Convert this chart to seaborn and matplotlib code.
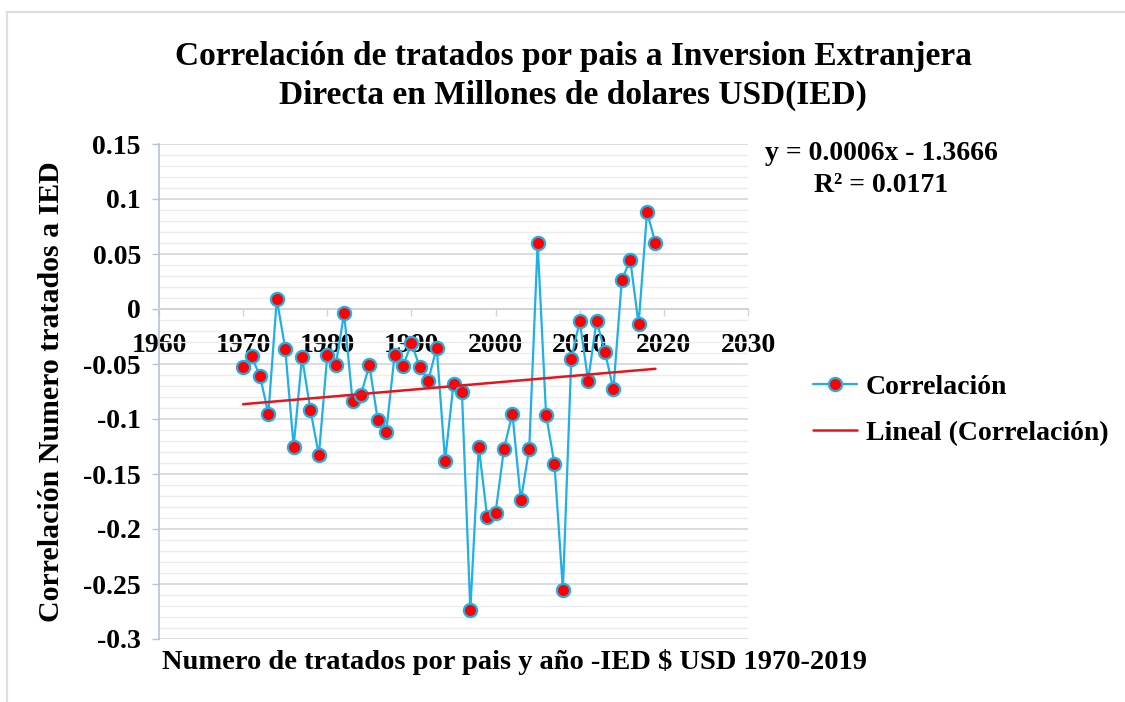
import numpy as np
import pandas as pd
import matplotlib
matplotlib.use("Agg")
import matplotlib.pyplot as plt
from matplotlib.lines import Line2D
from matplotlib.patches import Rectangle
from matplotlib.ticker import FixedLocator, FixedFormatter, MultipleLocator
import seaborn as sns

# ---------------- data ----------------
years = list(range(1970, 2020))
correlacion = [
    -0.053, -0.043, -0.061, -0.095, 0.009, -0.036, -0.125, -0.044, -0.092, -0.133,
    -0.042, -0.051, -0.004, -0.084, -0.078, -0.051, -0.101, -0.112, -0.042, -0.052,
    -0.031, -0.053, -0.065, -0.035, -0.138, -0.068, -0.075, -0.274, -0.125, -0.189,
    -0.185, -0.127, -0.095, -0.174, -0.127, 0.060, -0.096, -0.141, -0.255, -0.045,
    -0.011, -0.065, -0.011, -0.039, -0.073, 0.026, 0.045, -0.014, 0.088, 0.060,
]
x_ticks = [1960, 1970, 1980, 1990, 2000, 2010, 2020, 2030]
y_ticks = [0.15, 0.1, 0.05, 0, -0.05, -0.1, -0.15, -0.2, -0.25, -0.3]
y_tick_labels = ["0.15", "0.1", "0.05", "0", "-0.05", "-0.1", "-0.15", "-0.2", "-0.25", "-0.3"]

title = "Correlación de tratados por pais a Inversion Extranjera\nDirecta en Millones de dolares USD(IED)"
x_label = "Numero de tratados por pais y año -IED $ USD 1970-2019"
y_label = "Correlación Numero tratados a IED"
series_name = "Correlación"
trend_name = "Lineal (Correlación)"
equation = "y = 0.0006x - 1.3666"
r2_text = "R² = 0.0171"

df = pd.DataFrame({"year": years, "corr": correlacion})

# ---------------- style ----------------
sns.set_theme(style="white")
plt.rcParams["font.family"] = ["Liberation Serif", "DejaVu Serif"]
plt.rcParams["font.weight"] = "bold"
plt.rcParams["text.color"] = "black"
plt.rcParams["axes.labelcolor"] = "black"
plt.rcParams["xtick.color"] = "black"
plt.rcParams["ytick.color"] = "black"

W, H = 1125, 702
fig = plt.figure(figsize=(W / 100, H / 100), dpi=100)
fig.patch.set_facecolor("white")

L, R, T, B = 159, 748, 144, 639
ax = fig.add_axes([L / W, 1 - B / H, (R - L) / W, (B - T) / H])
ax.set_facecolor("white")

blue = "#1fb0e6"
red = "#ff0000"
trend_red = "#e8141a"

sns.lineplot(data=df, x="year", y="corr", ax=ax, color=blue, linewidth=1.6,
             marker="o", markersize=9.5, markerfacecolor=red,
             markeredgecolor=blue, markeredgewidth=1.6, zorder=3)
sns.regplot(data=df, x="year", y="corr", ax=ax, scatter=False, ci=None,
            line_kws={"color": trend_red, "linewidth": 1.8, "zorder": 4})

ax.set_xlim(1960, 2030)
ax.set_ylim(-0.3, 0.15)

# grid
ax.yaxis.set_major_locator(FixedLocator(y_ticks))
ax.yaxis.set_major_formatter(FixedFormatter(y_tick_labels))
ax.yaxis.set_minor_locator(MultipleLocator(0.01))
ax.grid(axis="y", which="major", color="#d9dce1", linewidth=1.4, zorder=0)
ax.grid(axis="y", which="minor", color="#ececef", linewidth=1.0, zorder=0)
ax.grid(axis="x", visible=False)
ax.set_axisbelow(True)

ax.xaxis.set_major_locator(FixedLocator(x_ticks))
ax.set_xticklabels([str(v) for v in x_ticks])

for s in ["top", "right"]:
    ax.spines[s].set_visible(False)
ax.spines["left"].set_color("#b8c2d2")
ax.spines["left"].set_linewidth(1.2)
ax.spines["bottom"].set_position(("data", 0))
ax.spines["bottom"].set_color("#d0d3d8")
ax.spines["bottom"].set_linewidth(1.4)

ax.tick_params(axis="y", which="major", left=True, length=5, width=1.0,
               color="#b8c2d2", pad=8, labelsize=20, labelcolor="black")
ax.tick_params(axis="y", which="minor", left=False)
ax.tick_params(axis="x", which="major", bottom=True, direction="out", length=5,
               width=1.0, color="#d0d3d8", pad=12, labelsize=20, labelcolor="black")
for lab in ax.get_xticklabels() + ax.get_yticklabels():
    lab.set_fontweight("bold")

ax.set_xlabel("")
ax.set_ylabel("")

# texts
fig.text(573 / W, 1 - 76 / H, title, ha="center", va="center", fontsize=24,
         fontweight="bold", linespacing=1.3, color="black")
fig.text(515 / W, 1 - 662 / H, x_label, ha="center", va="center", fontsize=20.5,
         fontweight="bold", color="black")
fig.text(52 / W, 1 - 392 / H, y_label, ha="center", va="center", fontsize=21.5,
         fontweight="bold", rotation=90, color="black")
fig.text(881 / W, 1 - 153 / H, equation, ha="center", va="center", fontsize=20,
         fontweight="bold", color="black")
fig.text(881 / W, 1 - 186 / H, r2_text, ha="center", va="center", fontsize=20,
         fontweight="bold", color="black")

# legend
handles = [
    Line2D([], [], color=blue, linewidth=1.6, marker="o", markersize=9.5,
           markerfacecolor=red, markeredgecolor=blue, markeredgewidth=1.6),
    Line2D([], [], color=trend_red, linewidth=1.8),
]
leg = fig.legend(handles, [series_name, trend_name], loc="center left",
                 bbox_to_anchor=(813 / W, 1 - 410 / H), frameon=False,
                 prop={"family": "Liberation Serif", "weight": "bold", "size": 20},
                 handlelength=1.6, handletextpad=0.3, labelspacing=0.75,
                 borderpad=0, borderaxespad=0)
for t in leg.get_texts():
    t.set_color("black")

# outer frame
fig.add_artist(Rectangle((7 / W, -0.05), 1.1, 1 - 12 / H + 0.05,
                         transform=fig.transFigure, fill=False,
                         edgecolor="#dcdfe5", linewidth=1.6))

fig.savefig("out.png", dpi=100, facecolor="white")
